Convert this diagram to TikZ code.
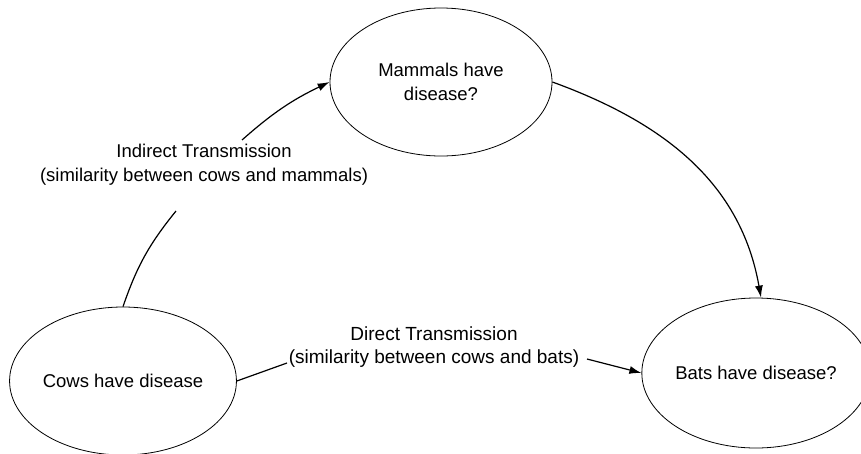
\documentclass[tikz,border=0pt]{standalone}
\usepackage{fontspec}
\setmainfont{Liberation Sans}
\usetikzlibrary{shapes.geometric,arrows.meta}
\begin{document}
\begin{tikzpicture}[x=1pt,y=-1pt,
  ell/.style={draw,ellipse,line width=0.8pt,inner sep=0pt,align=center,
    font=\fontsize{18.5}{24}\selectfont},
  lbl/.style={align=center,inner sep=0pt,font=\fontsize{18.5}{24}\selectfont},
  conn/.style={line width=1.2pt},
  arr/.style={conn,-{Latex[length=12pt,width=8pt]}}]
\useasboundingbox (0,0) rectangle (861,453);
\node[ell,minimum width=222pt,minimum height=148pt] (mam) at (441,82) {Mammals have\\disease?};
\node[ell,minimum width=226pt,minimum height=148pt] (cows) at (123,381) {Cows have disease};
\node[ell,minimum width=208pt,minimum height=150pt] (bats) at (756,373) {Bats have disease?};
\node[lbl] (ind) at (204,165) {Indirect Transmission\\(similarity between cows and mammals)};
\node[lbl,font=\fontsize{19}{23}\selectfont] (dir) at (434,347) {Direct Transmission\\(similarity between cows and bats)};
\draw[conn] (cows.north) to[bend left=10] ([xshift=-28pt,yshift=-46pt]ind.center);
\draw[arr] ([xshift=38pt,yshift=25pt]ind.center) to[bend left=8] (mam.west);
\draw[arr] (mam.east) to[out=-20,in=100] ([xshift=5pt]bats.north);
\draw[conn] (cows.east) -- ([xshift=-147pt,yshift=-16pt]dir.center);
\draw[arr] ([xshift=153pt,yshift=-12pt]dir.center) -- (bats.west);
\end{tikzpicture}
\end{document}
